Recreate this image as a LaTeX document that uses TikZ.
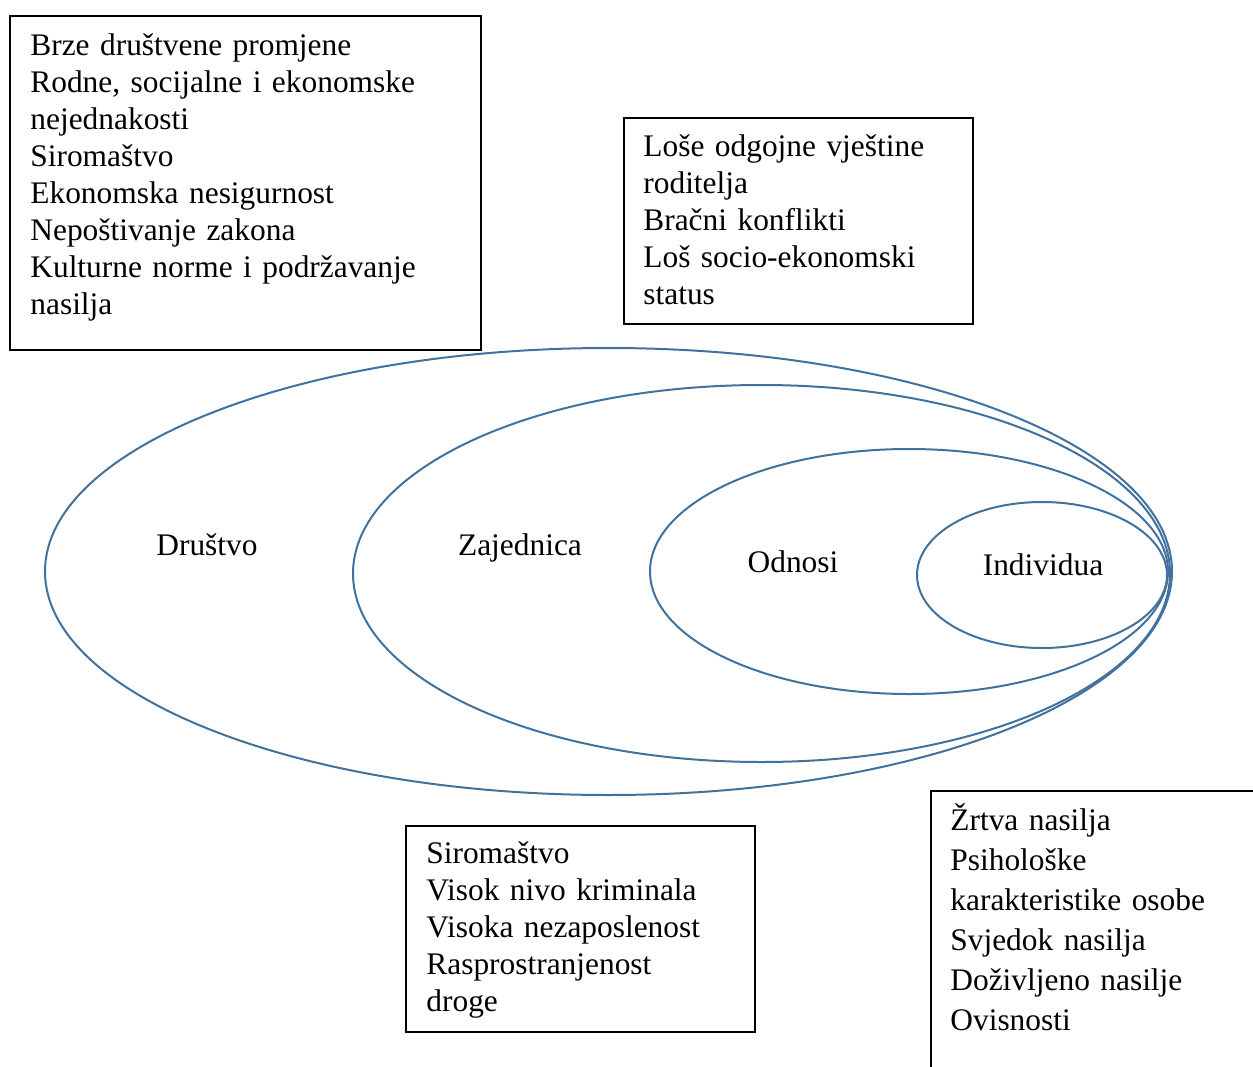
\documentclass[tikz,border=0pt]{standalone}
\usepackage{fontspec}
\setmainfont{Liberation Serif}
\definecolor{ringblue}{RGB}{65,113,156}

\begin{document}
\begin{tikzpicture}[x=0.5pt, y=-0.5pt,
	okvir/.style={draw=black, line width=1pt, inner sep=0pt, anchor=north west},
	tekst/.style={anchor=base west, inner sep=0pt, align=left, text width=200pt, font=\fontsize{15.7}{18.5}\selectfont},
	krug/.style={draw=ringblue, line width=1pt},
	naziv/.style={anchor=base, inner sep=0pt, font=\fontsize{15.7}{18.5}\selectfont}]

\clip (0,0) rectangle (1253,1066);

\draw[krug] (608.5,571.5) ellipse [x radius=563.5, y radius=223.5];
\draw[krug] (761.5,573.5) ellipse [x radius=408.5, y radius=188.5];
\draw[krug] (909,571.5) ellipse [x radius=259, y radius=122.5];
\draw[krug] (1042,575) ellipse [x radius=125, y radius=73];

\node[naziv] (drustvo) at (207,555) {Društvo};
\node[naziv] (zajednica) at (520,555) {Zajednica};
\node[naziv] (odnosi) at (793,572) {Odnosi};
\node[naziv] (individua) at (1043,575) {Individua};

\node[okvir, minimum width=235.5pt, minimum height=167pt] (drustvoBox) at (9,15) {};
\node[tekst] (drustvoTxt) at (30,55) {Brze društvene promjene\\Rodne, socijalne i ekonomske\\nejednakosti\\Siromaštvo\\Ekonomska nesigurnost\\Nepoštivanje zakona\\Kulturne norme i podržavanje\\nasilja};

\node[okvir, minimum width=174.5pt, minimum height=103pt] (odnosiBox) at (623,117) {};
\node[tekst] (odnosiTxt) at (643,156) {Loše odgojne vještine\\roditelja\\Bračni konflikti\\Loš socio-ekonomski\\status};

\node[okvir, minimum width=174.5pt, minimum height=103pt] (zajednicaBox) at (405,825) {};
\node[tekst] (zajednicaTxt) at (426,863) {Siromaštvo\\Visok nivo kriminala\\Visoka nezaposlenost\\Rasprostranjenost\\droge};

\node[okvir, minimum width=200pt, minimum height=200pt] (individuaBox) at (930,790) {};
\node[tekst, font=\fontsize{15.7}{20}\selectfont] (individuaTxt) at (950,830) {Žrtva nasilja\\Psihološke\\karakteristike osobe\\Svjedok nasilja\\Doživljeno nasilje\\Ovisnosti};
\end{tikzpicture}
\end{document}
